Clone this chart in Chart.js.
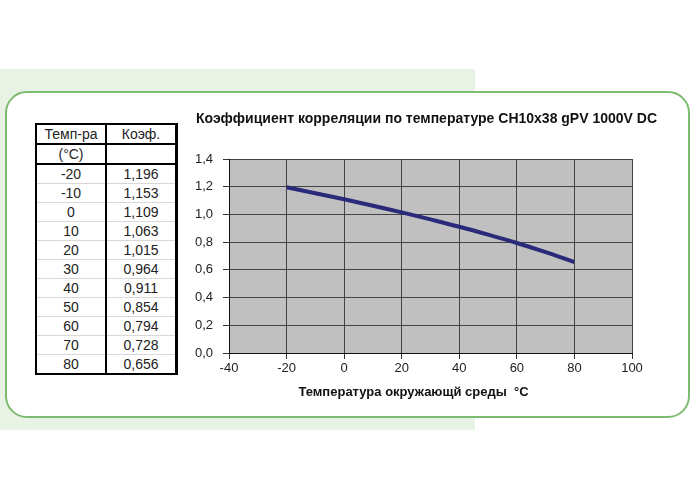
<!DOCTYPE html>
<html>
<head>
<meta charset="utf-8">
<script src="https://cdn.jsdelivr.net/npm/chart.js@4/dist/chart.umd.min.js"></script>
<style>
  body { margin: 0; width: 700px; height: 500px; background: #fff; position: relative; overflow: hidden;
         font-family: "Liberation Sans", Arial, sans-serif; }
  #greenBg { position: absolute; left: 0; top: 69px; width: 475px; height: 361px; background: #e9f3e5; }
  #panel { position: absolute; left: 5px; top: 91px; width: 681px; height: 323px; background: #fff;
           border: 2px solid #7dbb6e; border-radius: 22px; }
  #tbl { position: absolute; left: 35px; top: 123px; border-collapse: collapse; font-size: 14px; color: #222; }
  #tbl td { width: 68px; height: 18px; padding: 0; text-align: center; line-height: 18px;
            border-top: 1px solid #d8d8d8; border-left: 2px solid #000; border-right: 3px solid #000; }
  #tbl td:first-child { border-right: 2px solid #000; }
  #tbl tr.hd td { border-top: 2px solid #000; }
  #tbl tr:last-child td { border-bottom: 2px solid #000; }
  #wrap { position: absolute; left: 180px; top: 100px; width: 500px; height: 305px; }
</style>
</head>
<body>
<div id="greenBg"></div>
<div id="panel"></div>
<table id="tbl"></table>
<div id="wrap"><canvas id="grafico"></canvas></div>
<script>
'use strict'

const temps = [-20, -10, 0, 10, 20, 30, 40, 50, 60, 70, 80]
const coefs = [1.196, 1.153, 1.109, 1.063, 1.015, 0.964, 0.911, 0.854, 0.794, 0.728, 0.656]
const xTicks = [-40, -20, 0, 20, 40, 60, 80, 100]
const yTicks = [0, 0.2, 0.4, 0.6, 0.8, 1.0, 1.2, 1.4]
const titulo = 'Коэффициент корреляции по температуре CH10x38 gPV 1000V DC'
const tituloX = 'Температура окружающй среды  °C'

const coma = (v, d) => v.toFixed(d).replace('.', ',')

// tabla a la izquierda
let filas = '<tr class="hd"><td>Темп-ра</td><td>Коэф.</td></tr>'
filas += '<tr class="hd"><td>(°C)</td><td></td></tr>'
for (let i = 0; i < temps.length; i++) {
  filas += '<tr' + (i == 0 ? ' class="hd"' : '') + '><td>' + temps[i] + '</td><td>' + coma(coefs[i], 3) + '</td></tr>'
}
document.querySelector('#tbl').innerHTML = filas

const fondoGris = {
  id: 'fondoGris',
  beforeDraw(chart) {
    const a = chart.chartArea
    const ctx = chart.ctx
    ctx.save()
    ctx.fillStyle = '#c0c0c0'
    ctx.fillRect(a.left, a.top, a.right - a.left, a.bottom - a.top)
    ctx.restore()
  }
}

// titulos dibujados a mano (el de chart.js comprime el texto si no cabe)
const titulos = {
  id: 'titulos',
  afterDraw(chart) {
    const a = chart.chartArea
    const ctx = chart.ctx
    ctx.save()
    ctx.fillStyle = '#111'
    ctx.textAlign = 'center'
    ctx.textBaseline = 'middle'
    ctx.font = 'bold 14px "Liberation Sans", Arial, sans-serif'
    ctx.fillText(titulo, (a.left + a.right) / 2 - 4, a.top - 40)
    ctx.font = 'bold 13px "Liberation Sans", Arial, sans-serif'
    ctx.fillText(tituloX, (a.left + a.right) / 2 - 17, a.bottom + 39)
    ctx.restore()
  }
}

const data = {
  datasets: [{
    data: temps.map((t, i) => ({ x: t, y: coefs[i] })),
    borderColor: '#2a2a7a',
    borderWidth: 4,
    pointRadius: 0,
    tension: 0.4,
    fill: false
  }]
}

const config = {
  type: 'line',
  data: data,
  options: {
    responsive: true,
    maintainAspectRatio: false,
    animation: false,
    layout: { padding: { left: 0, right: 48, top: 59, bottom: 0 } },
    plugins: {
      legend: { display: false },
      tooltip: { enabled: false },
      title: { display: false }
    },
    scales: {
      x: {
        type: 'linear',
        min: -40,
        max: 100,
        afterBuildTicks: s => { s.ticks = xTicks.map(v => ({ value: v })) },
        afterFit: s => { s.height = 52 },
        ticks: { color: '#222', font: { family: 'Liberation Sans', size: 13 }, padding: 2, maxRotation: 0 },
        grid: { color: '#444', lineWidth: 1, tickLength: 6, tickColor: '#333' },
        border: { color: '#111', width: 1 }
      },
      y: {
        min: 0,
        max: 1.4,
        afterBuildTicks: s => { s.ticks = yTicks.map(v => ({ value: v })) },
        afterFit: s => { s.width = 49 },
        ticks: { color: '#222', font: { family: 'Liberation Sans', size: 13 }, padding: 10,
                 callback: v => coma(v, 1) },
        grid: { color: '#444', lineWidth: 1, tickLength: 6, tickColor: '#333' },
        border: { color: '#111', width: 1 }
      }
    }
  },
  plugins: [fondoGris, titulos]
}

let grafico = new Chart(document.querySelector('#grafico'), config)
</script>
</body>
</html>
